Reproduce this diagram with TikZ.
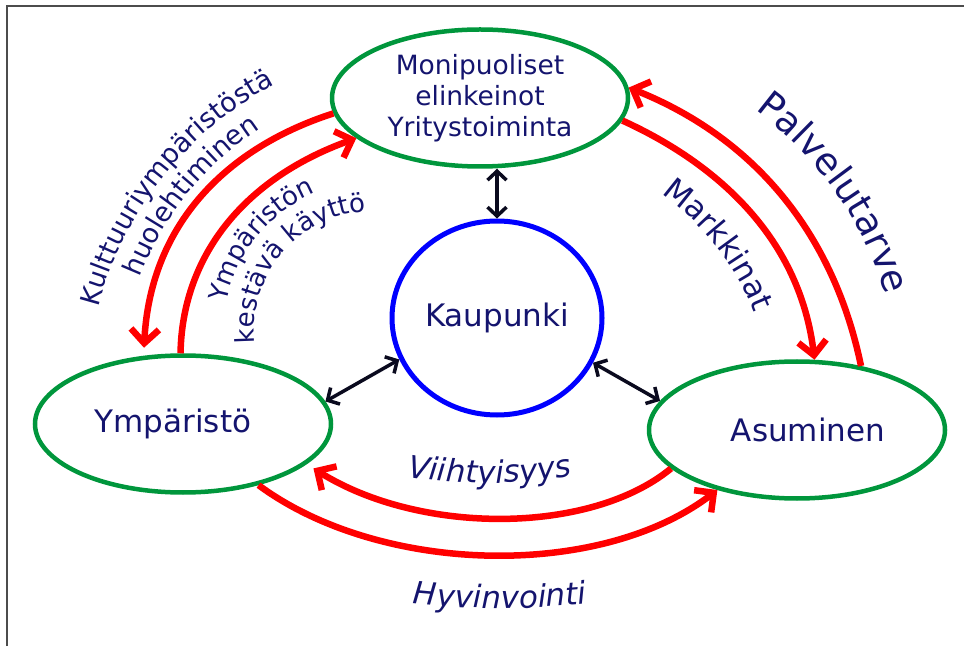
\documentclass[tikz,border=0pt]{standalone}
\usepackage{fontspec}
\setmainfont{DejaVu Sans}
\usetikzlibrary{shapes.geometric,arrows.meta,decorations.text}
\definecolor{navy}{RGB}{20,20,110}
\definecolor{leaf}{RGB}{0,150,60}
\definecolor{linkred}{RGB}{255,0,0}
\definecolor{tiecol}{RGB}{10,10,30}
\begin{document}
\begin{tikzpicture}[x=1pt,y=1pt,
  place/.style={ellipse,draw=leaf,line width=4.5pt,minimum width=296pt,minimum height=137pt,inner sep=0pt,text=navy,font=\fontsize{31}{31}\selectfont},
  link/.style={draw=linkred,line width=6.5pt,-{Straight Barb[length=14pt,width=28pt]}},
  tie/.style={draw=tiecol,line width=3.5pt,{Straight Barb[length=9pt,width=19pt]}-{Straight Barb[length=9pt,width=19pt]}},
  arclabel/.style={decorate,decoration={text along path,text align=center,text color=navy,text={#1}}}]
\useasboundingbox (0,0) rectangle (964,646);
\draw[gray!60!black,line width=2pt] (7,0) -- (7,640) -- (964,640);

\node[place] (ymparisto) at (183,222) {Ympäristö\kern20pt};
\node[place] (asuminen) at (797,216) {\kern22pt Asuminen};
\node[place,align=center,font=\fontsize{26.5}{31}\selectfont] (elinkeinot) at (480,548) {Monipuoliset\\elinkeinot\\Yritystoiminta};
\node[ellipse,draw=blue,line width=5pt,minimum width=210pt,minimum height=194pt,inner sep=0pt,text=navy,font=\fontsize{31}{31}\selectfont] (kaupunki) at (497,328) {Kaupunki};

% kaupunki <-> the three others
\draw[tie] (kaupunki.north |- elinkeinot.south) -- (kaupunki.north);
\draw[tie] (ymparisto.9.5) -- (kaupunki.203);
\draw[tie] (kaupunki.335) -- (asuminen.168.5);

% red flows
\draw[link,shorten >=8pt] (elinkeinot.186) .. controls (220,496) and (150,416) .. (ymparisto.120);
\draw[link] (ymparisto.92) .. controls (182,386) and (240,466) .. (elinkeinot.198);
\draw[link] (elinkeinot.351) .. controls (720,481) and (800,406) .. (asuminen.76);
\draw[link] (asuminen.45) .. controls (835,406) and (760,506) .. (elinkeinot.4);
\draw[link,shorten >=8pt] (asuminen.197) .. controls (590,111) and (420,111) .. (ymparisto.342);
\draw[link] (ymparisto.321) .. controls (380,71) and (600,66) .. (asuminen.217);

% curved labels
\path[arclabel={|\fontsize{27}{27}\selectfont|Kulttuuriympäristöstä}] (437,251) ++(168.5:350) arc[start angle=168.5,end angle=114.5,radius=350];
\path[arclabel={|\fontsize{27}{27}\selectfont|huolehtiminen}] (437,251) ++(161:320) arc[start angle=161,end angle=121,radius=320];
\path[arclabel={|\fontsize{26}{26}\selectfont|Ympäristön}] (374,315) ++(173:150) arc[start angle=173,end angle=109,radius=150];
\path[arclabel={|\fontsize{26}{26}\selectfont|kestävä käyttö}] (374,315) ++(194.7:120) arc[start angle=194.7,end angle=84.7,radius=120];
\path[arclabel={|\fontsize{31}{31}\selectfont|Markkinat}] (502,232) ++(58:272) arc[start angle=58,end angle=18,radius=272];
\path[arclabel={|\fontsize{37}{37}\selectfont|Palvelutarve}] (542,249) ++(60:358) arc[start angle=60,end angle=10,radius=358];
\path[arclabel={|\fontsize{31}{31}\selectfont\itshape|Viihtyisyys}] (400,170) .. controls (460,160) and (520,160) .. (580,172);
\path[arclabel={|\fontsize{31}{31}\selectfont\itshape|Hyvinvointi}] (405,43) .. controls (465,36) and (530,36) .. (595,43);
\end{tikzpicture}
\end{document}
